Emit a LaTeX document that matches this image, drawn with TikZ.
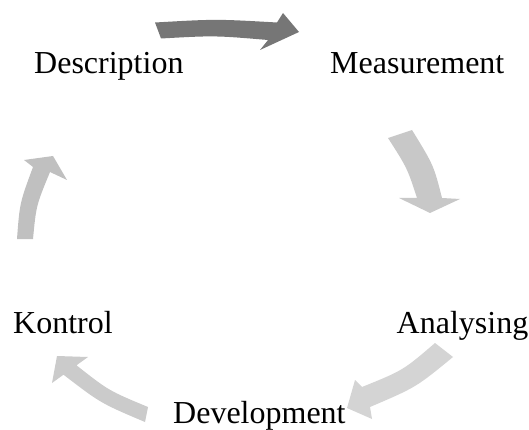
\documentclass[tikz,border=0pt]{standalone}
\usepackage{fontspec}
\setmainfont{Liberation Serif}
\definecolor{arrdark}{RGB}{118,118,118}
\definecolor{arrlightA}{RGB}{200,200,200}
\definecolor{arrlightB}{RGB}{212,212,212}
\definecolor{arrlightC}{RGB}{203,203,203}
\definecolor{arrlightD}{RGB}{192,192,192}
\begin{document}
\begin{tikzpicture}[x=1pt,y=-1pt,
  lbl/.style={font=\fontsize{32}{38}\selectfont, inner sep=0pt, anchor=base west, text=black}]
\useasboundingbox (0,0) rectangle (529,430);

% labels
\node[lbl] (desc) at (34,73.3) {Description};
\node[lbl] (meas) at (330,73.3) {Measurement};
\node[lbl] (anal) at (396.5,333.5) {Analysing};
\node[lbl] (dev)  at (173,423) {Development};
\node[lbl] (kon)  at (13,333.5) {Kontrol};

% arrow 1: Description -> Measurement (dark)
\fill[arrdark] (155,22.5) .. controls (216,19) .. (277,22.5) -- (283,13) -- (299,32) -- (260,50)
  -- (268,40) .. controls (214.5,35.5) .. (161,38.5) -- cycle;

% arrow 2: Measurement -> Analysing
\fill[arrlightA] (388,138) -- (412,130) .. controls (433.7,165.3) .. (442,198) -- (460,199)
  -- (430,213) -- (399,198) -- (417,198) .. controls (407.2,168) .. (388,138) -- cycle;

% arrow 3: Analysing -> Development
\fill[arrlightB] (435,343) .. controls (403.2,370.3) .. (362,387) -- (355,380) -- (347,408)
  -- (372,419) -- (370,407) .. controls (416.1,387.3) .. (453,357) -- cycle;

% arrow 4: Development -> Kontrol
\fill[arrlightC] (148,407) .. controls (108.6,390.6) .. (76.5,365.3) -- (88,357) -- (57,356)
  -- (52,383) -- (63.5,374.7) .. controls (100.6,403.2) .. (145,422) -- cycle;

% arrow 5: Kontrol -> Description
\fill[arrlightD] (17,239) .. controls (19.7,203) .. (33,167) -- (24,160) -- (53,156)
  -- (67,180) -- (50,172) .. controls (36.2,205.5) .. (33,239) -- cycle;
\end{tikzpicture}
\end{document}
